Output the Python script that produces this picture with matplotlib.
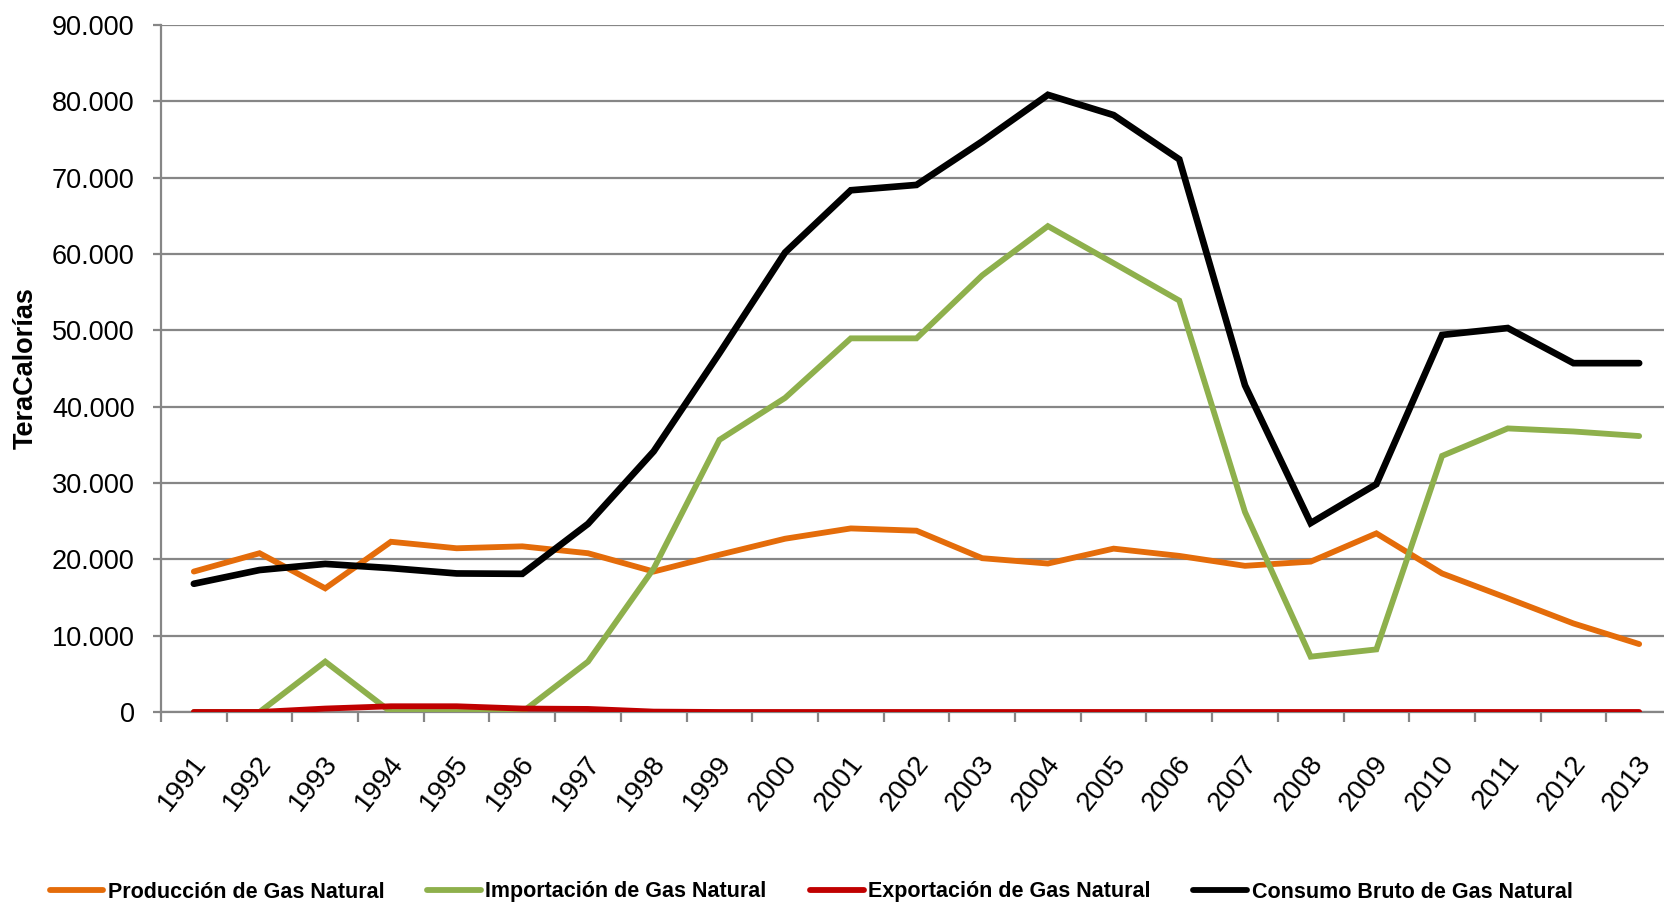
import matplotlib
matplotlib.use("Agg")
import matplotlib.pyplot as plt
from matplotlib.ticker import FuncFormatter, FixedLocator
import matplotlib.transforms as mtransforms

years = [str(y) for y in range(1991, 2014)]
produccion = [18400, 20800, 16200, 22300, 21450, 21700, 20800, 18400, 20600, 22700,
              24050, 23750, 20150, 19450, 21400, 20450, 19150, 19700, 23400, 18150,
              14900, 11600, 8900]
importacion = [0, 0, 6600, 0, 0, 0, 6600, 18800, 35650, 41150,
               48950, 48950, 57200, 63650, 58800, 53900, 26200, 7250, 8200, 33550,
               37150, 36750, 36150]
exportacion = [0, 0, 450, 750, 750, 450, 400, 50, 0, 0,
               0, 0, 0, 0, 0, 0, 0, 0, 0, 0,
               0, 0, 0]
consumo = [16800, 18600, 19400, 18850, 18150, 18100, 24650, 34150, 47000, 60200,
           68350, 69050, 74750, 80850, 78200, 72400, 42800, 24750, 29850, 49400,
           50300, 45700, 45700]

series_names = ["Producción de Gas Natural", "Importación de Gas Natural",
                "Exportación de Gas Natural", "Consumo Bruto de Gas Natural"]
colors = ["#E46C0A", "#8EB04C", "#C00000", "#000000"]

FONT = ["Liberation Sans", "DejaVu Sans"]
GRID = "#868686"

W, H = 1665, 907
fig = plt.figure(figsize=(W / 100, H / 100), dpi=100)
ax = fig.add_axes([161 / W, 1 - 712 / H, 1511 / W, 687 / H])

x = list(range(len(years)))
data = [produccion, importacion, exportacion, consumo]
lws = [4.2, 4.2, 4.2, 4.8]
for vals, name, c, lw in zip(data, series_names, colors, lws):
    ax.plot(x, vals, color=c, lw=lw, label=name, solid_capstyle="round",
            solid_joinstyle="miter", zorder=3)

ax.set_xlim(-0.5, len(years) - 0.5)
ax.set_ylim(0, 90000)
ax.set_yticks(range(0, 90001, 10000))
ax.yaxis.set_major_formatter(FuncFormatter(lambda v, p: f"{int(v):,}".replace(",", ".")))
ax.grid(axis="y", color=GRID, lw=1.6, zorder=0)
ax.set_axisbelow(True)

for s in ["top", "right"]:
    ax.spines[s].set_visible(False)
for s in ["left", "bottom"]:
    ax.spines[s].set_color(GRID)
    ax.spines[s].set_linewidth(1.6)

ax.tick_params(axis="y", length=6, width=1.6, color=GRID, pad=13, labelsize=19.5)
for lab in ax.get_yticklabels():
    lab.set_family(FONT)

ax.set_xticks(x)
ax.set_xticklabels(years)
ax.xaxis.set_minor_locator(FixedLocator([i - 0.5 for i in range(len(years) + 1)]))
ax.tick_params(axis="x", which="major", length=0, pad=28, labelsize=20)
ax.tick_params(axis="x", which="minor", length=7.5, width=1.6, color=GRID)
offset = mtransforms.ScaledTranslation(-3 / 100, 0, fig.dpi_scale_trans)
for lab in ax.get_xticklabels():
    lab.set_family(FONT)
    lab.set_rotation(52)
    lab.set_ha("right")
    lab.set_va("top")
    lab.set_rotation_mode("anchor")
    lab.set_transform(lab.get_transform() + offset)

ax.set_ylabel("TeraCalorías", fontsize=19.5, fontweight="bold", family=FONT)
ax.yaxis.set_label_coords(-0.081, 0.5)

leg = fig.legend(loc="center", bbox_to_anchor=(811 / W, 1 - 892 / H), ncol=4,
                 frameon=False, handlelength=2.5, handletextpad=0.2,
                 columnspacing=2.0,
                 prop={"family": FONT, "weight": "bold", "size": 15.5})
for lh in leg.get_lines():
    lh.set_linewidth(4.2)

fig.savefig("out.png", dpi=100)
